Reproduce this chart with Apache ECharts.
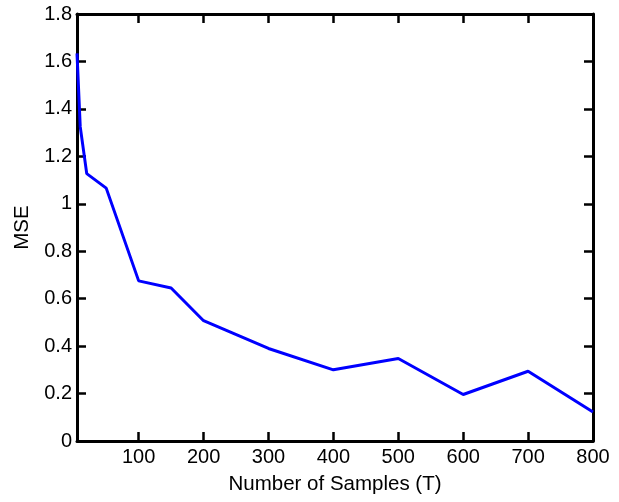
<!DOCTYPE html>
<html>
<head>
<meta charset="utf-8">
<script src="https://cdn.jsdelivr.net/npm/echarts@6/dist/echarts.min.js"></script>
<style>html,body{margin:0;padding:0;background:#fff;}#c{width:619px;height:502px;}</style>
</head>
<body>
<div id="c"></div>
<script>
var samples = [5, 10, 20, 50, 100, 150, 200, 300, 400, 500, 600, 700, 800];
var mse = [1.634, 1.324, 1.127, 1.066, 0.675, 0.645, 0.507, 0.39, 0.3, 0.348, 0.196, 0.294, 0.122];
var xTickLabels = [100, 200, 300, 400, 500, 600, 700, 800];
var xTickMarks = [100, 200, 300, 400, 500, 600, 700];

var font = 'Liberation Sans, Arial, Helvetica, sans-serif';
var chart = echarts.init(document.getElementById('c'), null, {renderer: 'canvas'});
var axisLineStyle = {color: '#000', width: 3};
var tickStyle = {color: '#000', width: 2.5};
chart.setOption({
  animation: false,
  grid: {left: 77, right: 26, top: 14, bottom: 61, containLabel: false},
  xAxis: [{
    type: 'value', min: 5, max: 800, position: 'bottom',
    name: 'Number of Samples (T)', nameLocation: 'middle', nameGap: 33,
    nameTextStyle: {fontFamily: font, fontSize: 20.5, color: '#000'},
    axisLine: {show: true, onZero: false, lineStyle: axisLineStyle},
    axisTick: {show: true, inside: true, length: 9, lineStyle: tickStyle, customValues: xTickMarks},
    axisLabel: {fontFamily: font, fontSize: 20, color: '#000', margin: 6, customValues: xTickLabels},
    splitLine: {show: false}
  }, {
    type: 'value', min: 5, max: 800, position: 'top',
    axisLine: {show: true, onZero: false, lineStyle: axisLineStyle},
    axisTick: {show: true, inside: true, length: 9, lineStyle: tickStyle, customValues: xTickMarks},
    axisLabel: {show: false},
    splitLine: {show: false}
  }],
  yAxis: [{
    type: 'value', min: 0, max: 1.8, interval: 0.2, position: 'left',
    name: 'MSE', nameLocation: 'middle', nameGap: 43, nameRotate: 90,
    nameTextStyle: {fontFamily: font, fontSize: 20.5, color: '#000'},
    axisLine: {show: true, onZero: false, lineStyle: axisLineStyle},
    axisTick: {show: true, inside: true, length: 9, lineStyle: tickStyle},
    axisLabel: {fontFamily: font, fontSize: 20, color: '#000', margin: 5},
    splitLine: {show: false}
  }, {
    type: 'value', min: 0, max: 1.8, interval: 0.2, position: 'right',
    axisLine: {show: true, onZero: false, lineStyle: axisLineStyle},
    axisTick: {show: true, inside: true, length: 9, lineStyle: tickStyle},
    axisLabel: {show: false},
    splitLine: {show: false}
  }],
  series: [{
    type: 'line',
    xAxisIndex: 0, yAxisIndex: 0,
    data: samples.map(function (x, i) { return [x, mse[i]]; }),
    showSymbol: false,
    symbol: 'none',
    lineStyle: {color: '#0000ff', width: 3},
    clip: true
  }]
});
</script>
</body>
</html>
